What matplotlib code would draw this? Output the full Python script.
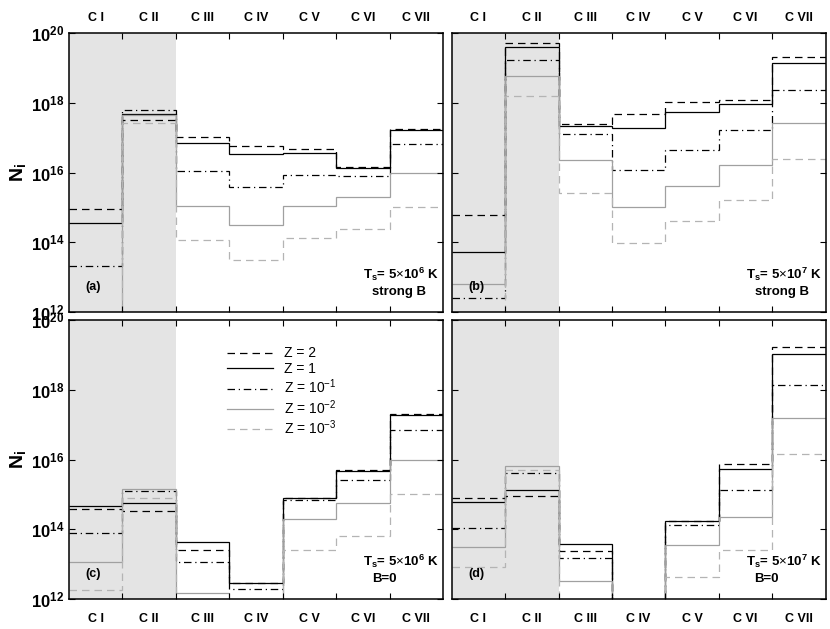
import numpy as np
import matplotlib
matplotlib.use('Agg')
import matplotlib.pyplot as plt
from matplotlib.ticker import FixedLocator, NullLocator

plt.rcParams['font.family'] = ['Liberation Sans', 'DejaVu Sans']
plt.rcParams['mathtext.fontset'] = 'custom'
plt.rcParams['mathtext.rm'] = 'Liberation Sans'
plt.rcParams['mathtext.bf'] = 'Liberation Sans:bold'
plt.rcParams['mathtext.it'] = 'Liberation Sans:italic'

IONS = ['C I', 'C II', 'C III', 'C IV', 'C V', 'C VI', 'C VII']
Z_LABELS = ['Z = 2', 'Z = 1', r'Z = 10$^{-1}$', r'Z = 10$^{-2}$', r'Z = 10$^{-3}$']

# log10 N_i per ion; 11 means below the plotted range
# (a) Ts = 5e6 K, strong B
A_Z2 = [14.95, 17.51, 17.03, 16.75, 16.68, 16.15, 17.24]
A_Z1 = [14.55, 17.67, 16.84, 16.54, 16.57, 16.13, 17.21]
A_Z01 = [13.33, 17.79, 16.03, 15.57, 15.93, 15.90, 16.81]
A_Z001 = [11.0, 17.64, 15.05, 14.50, 15.05, 15.29, 16.00]
A_Z0001 = [11.0, 17.42, 14.07, 13.49, 14.11, 14.37, 15.02]
# (b) Ts = 5e7 K, strong B
B_Z2 = [14.79, 19.70, 17.39, 17.67, 18.02, 18.09, 19.30]
B_Z1 = [13.71, 19.61, 17.32, 17.27, 17.73, 17.96, 19.14]
B_Z01 = [12.39, 19.24, 17.09, 16.07, 16.65, 17.21, 18.37]
B_Z001 = [12.79, 18.76, 16.37, 15.00, 15.60, 16.22, 17.41]
B_Z0001 = [11.0, 18.19, 15.42, 13.99, 14.60, 15.21, 16.40]
# (c) Ts = 5e6 K, B = 0
C_Z2 = [14.59, 14.51, 13.40, 12.47, 14.89, 15.70, 17.31]
C_Z1 = [14.66, 14.74, 13.63, 12.45, 14.91, 15.68, 17.27]
C_Z01 = [13.88, 15.09, 13.07, 12.28, 14.85, 15.41, 16.84]
C_Z001 = [13.05, 15.16, 12.16, 11.0, 14.30, 14.76, 16.00]
C_Z0001 = [12.26, 14.89, 11.0, 11.0, 13.40, 13.81, 15.02]
# (d) Ts = 5e7 K, B = 0
D_Z2 = [14.89, 14.94, 13.38, 11.0, 14.23, 15.88, 19.22]
D_Z1 = [14.77, 15.14, 13.57, 11.0, 14.25, 15.74, 19.03]
D_Z01 = [14.05, 15.62, 13.17, 11.0, 14.11, 15.14, 18.15]
D_Z001 = [13.50, 15.81, 12.53, 11.0, 13.55, 14.35, 17.18]
D_Z0001 = [12.92, 15.69, 11.0, 11.0, 12.64, 13.41, 16.17]

PANELS = [
    ('(a)', r'T$_\mathbf{s}$= 5$\times$10$^\mathbf{6}$ K', 'strong B', [A_Z2, A_Z1, A_Z01, A_Z001, A_Z0001]),
    ('(b)', r'T$_\mathbf{s}$= 5$\times$10$^\mathbf{7}$ K', 'strong B', [B_Z2, B_Z1, B_Z01, B_Z001, B_Z0001]),
    ('(c)', r'T$_\mathbf{s}$= 5$\times$10$^\mathbf{6}$ K', 'B=0', [C_Z2, C_Z1, C_Z01, C_Z001, C_Z0001]),
    ('(d)', r'T$_\mathbf{s}$= 5$\times$10$^\mathbf{7}$ K', 'B=0', [D_Z2, D_Z1, D_Z01, D_Z001, D_Z0001]),
]

STYLES = [
    dict(color='black', linestyle=(0, (6, 4))),
    dict(color='black', linestyle='-'),
    dict(color='black', linestyle=(0, (6, 3, 1, 3))),
    dict(color='#a0a0a0', linestyle='-'),
    dict(color='#b4b4b4', linestyle=(0, (6, 4))),
]

fig = plt.figure(figsize=(8.3, 6.29), dpi=100)
W, H = 0.4506, 0.4435
positions = [
    [0.0831, 0.504, W, H],
    [0.5442, 0.504, W, H],
    [0.0831, 0.0477, W, H],
    [0.5442, 0.0477, W, H],
]

edges = np.arange(len(IONS) + 1)
centers = edges[:-1] + 0.5
yticks = [1e12, 1e14, 1e16, 1e18, 1e20]

for i, (tag, line1, line2, series) in enumerate(PANELS):
    ax = fig.add_axes(positions[i])
    ax.axvspan(0, 2, color='#e4e4e4', lw=0, zorder=0)
    for vals, st, lab in zip(series, STYLES, Z_LABELS):
        ax.stairs(10.0 ** np.array(vals), edges, baseline=None, lw=0.9,
                  label=lab, **st)
    ax.set_yscale('log')
    ax.set_xlim(0, 7)
    ax.set_ylim(1e12, 1e20)

    ax.xaxis.set_major_locator(FixedLocator(edges[1:-1]))
    ax.xaxis.set_minor_locator(FixedLocator(centers))
    ax.xaxis.set_minor_formatter(plt.FixedFormatter(IONS))
    ax.set_xticklabels([])
    ax.yaxis.set_major_locator(FixedLocator(yticks))
    ax.yaxis.set_minor_locator(NullLocator())
    ax.tick_params(which='major', direction='in', length=4, width=0.8,
                   top=True, bottom=True, left=True, right=True)
    top_row = i < 2
    ax.tick_params(axis='x', which='minor', length=0,
                   pad=6.5 if top_row else 10,
                   labeltop=top_row, labelbottom=not top_row,
                   labelsize=9)
    for lbl in ax.xaxis.get_minorticklabels():
        lbl.set_fontweight('bold')
    if i % 2 == 0:
        ax.set_yticklabels([r'$\mathbf{10^{%d}}$' % p for p in (12, 14, 16, 18, 20)],
                           fontsize=12)
        ax.set_ylabel(r'$\mathbf{N_i}$', fontsize=14, labelpad=2)
    else:
        ax.set_yticklabels([])
    for sp in ax.spines.values():
        sp.set_linewidth(1.1)

    ax.text(0.045, 0.09, tag, transform=ax.transAxes, fontsize=9,
            fontweight='bold', ha='left', va='center')
    ax.text(0.786, 0.135, line1, transform=ax.transAxes, fontsize=9.5,
            fontweight='bold', ha='left', va='center')
    ax.text(0.81, 0.07, line2, transform=ax.transAxes, fontsize=9.5,
            fontweight='bold', ha='left', va='center')

    if i == 2:
        ax.legend(loc='upper left', bbox_to_anchor=(0.39, 0.95), frameon=False,
                  fontsize=10, handlelength=3.3, labelspacing=0.12,
                  handletextpad=0.8)

fig.savefig('out.png', dpi=100)
